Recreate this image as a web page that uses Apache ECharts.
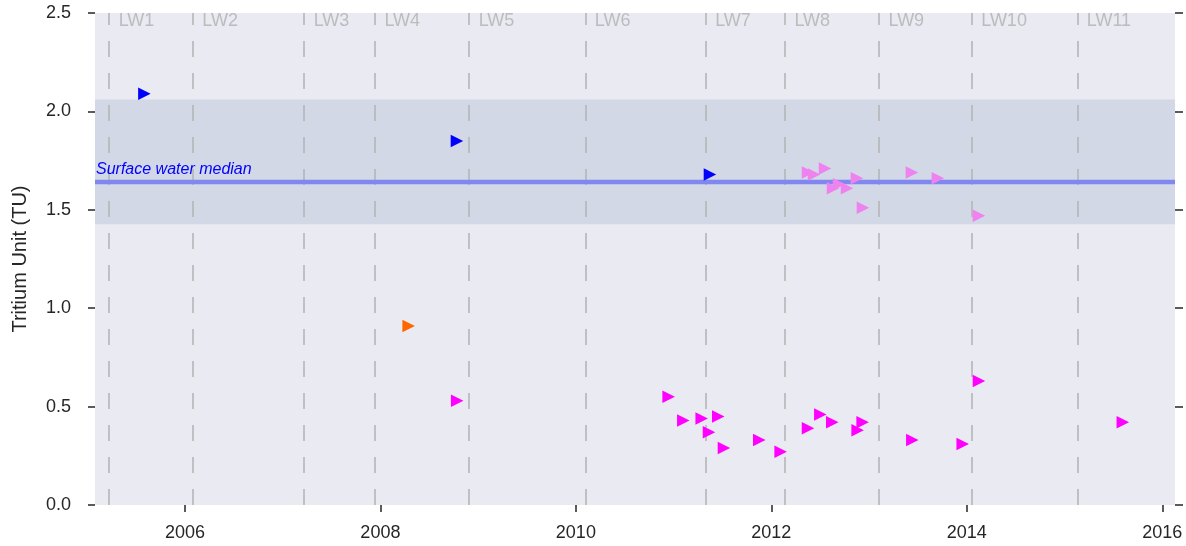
<!DOCTYPE html>
<html>
<head>
<meta charset="utf-8">
<script src="https://cdn.jsdelivr.net/npm/echarts@6/dist/echarts.min.js"></script>
<style>
  html, body { margin: 0; padding: 0; background: #fff; }
  #chart { width: 1186px; height: 546px; }
</style>
</head>
<body>
<div id="chart"></div>
<script>
// decimal year, tritium value (TU)
const bluePoints = [[2005.585, 2.09], [2008.783, 1.85], [2011.372, 1.68]];
const orangePoints = [[2008.289, 0.91]];
const magentaPoints = [
    [2008.786, 0.53], [2010.949, 0.55], [2011.099, 0.43], [2011.287, 0.44],
    [2011.362, 0.37], [2011.457, 0.45], [2011.515, 0.29], [2011.876, 0.33],
    [2012.095, 0.27], [2012.375, 0.39], [2012.501, 0.46], [2012.623, 0.42],
    [2012.883, 0.38], [2012.934, 0.42], [2013.442, 0.33], [2013.958, 0.31],
    [2014.124, 0.63], [2015.596, 0.42]
];
const violetPoints = [
    [2012.375, 1.69], [2012.437, 1.68], [2012.549, 1.71], [2012.631, 1.61],
    [2012.692, 1.63], [2012.774, 1.61], [2012.876, 1.66], [2012.937, 1.51],
    [2013.438, 1.69], [2013.704, 1.66], [2014.124, 1.47]
];

// longwall panel start dates
const lwNames = ["LW1", "LW2", "LW3", "LW4", "LW5", "LW6", "LW7", "LW8", "LW9", "LW10", "LW11"];
const lwStarts = [2005.225, 2006.08, 2007.22, 2007.944, 2008.908, 2010.096, 2011.328, 2012.139, 2013.101, 2014.05, 2015.13];

// surface water reference
const surfaceMedian = 1.639;
const surfaceRange = [1.427, 2.06];

const xTicks = [2006, 2008, 2010, 2012, 2014, 2016];

const chart = echarts.init(document.getElementById('chart'));

const FONT = 'Liberation Sans, Arial, sans-serif';

function pointSeries(name, data, color) {
    return {
        name: name,
        type: 'scatter',
        data: data,
        symbol: 'triangle',
        symbolRotate: -90,
        symbolSize: 12.5,
        itemStyle: { color: color, opacity: 1 },
        z: 5,
        silent: true
    };
}

const option = {
    animation: false,
    textStyle: { fontFamily: FONT },
    grid: {
        left: 95, right: 11, top: 13, bottom: 41,
        show: true,
        backgroundColor: '#EAEAF2',
        borderWidth: 0
    },
    xAxis: {
        type: 'value',
        min: 2005.08,
        max: 2016.13,
        axisLine: { show: false },
        splitLine: { show: false },
        axisTick: {
            show: true,
            customValues: xTicks,
            length: 7,
            lineStyle: { color: '#262626', width: 1.5 }
        },
        axisLabel: {
            customValues: xTicks,
            color: '#262626',
            fontSize: 18,
            margin: 19,
            formatter: v => String(v)
        }
    },
    yAxis: [
        {
            type: 'value',
            min: 0,
            max: 2.5,
            interval: 0.5,
            name: 'Tritium Unit (TU)',
            nameLocation: 'middle',
            nameGap: 65,
            nameTextStyle: { color: '#262626', fontSize: 20, fontFamily: FONT },
            axisLine: { show: false },
            splitLine: { show: false },
            axisTick: { show: true, length: 7, lineStyle: { color: '#262626', width: 1.5 } },
            axisLabel: {
                color: '#262626',
                fontSize: 18,
                margin: 24,
                formatter: v => v.toFixed(1)
            }
        },
        {
            type: 'value',
            min: 0,
            max: 2.5,
            interval: 0.5,
            position: 'right',
            axisLine: { show: false },
            splitLine: { show: false },
            axisTick: { show: true, length: 8, lineStyle: { color: '#262626', width: 1.5 } },
            axisLabel: { show: false }
        }
    ],
    series: [
        {
            // surface water band
            type: 'scatter',
            data: [],
            z: 1,
            silent: true,
            markArea: {
                silent: true,
                itemStyle: { color: '#D3D8E7' },
                data: [[{ yAxis: surfaceRange[0] }, { yAxis: surfaceRange[1] }]]
            }
        },
        {
            // longwall dashed lines
            type: 'scatter',
            data: [],
            z: 2,
            silent: true,
            markLine: {
                silent: true,
                symbol: ['none', 'none'],
                label: { show: false },
                lineStyle: { color: '#B3B3B3', width: 1.5, type: [16, 16] },
                data: lwStarts.map(x => [{ coord: [x, 0] }, { coord: [x, 2.5] }])
            }
        },
        {
            // longwall labels
            type: 'scatter',
            data: lwStarts.map((x, i) => [x, 2.5, lwNames[i]]),
            symbolSize: 1,
            itemStyle: { color: 'rgba(0,0,0,0)' },
            z: 3,
            silent: true,
            label: {
                show: true,
                position: [10, 0],
                color: '#B0B0B0',
                fontSize: 18,
                fontFamily: FONT,
                formatter: p => p.value[2]
            }
        },
        {
            // surface water median
            type: 'scatter',
            data: [],
            z: 3,
            silent: true,
            markLine: {
                silent: true,
                symbol: ['none', 'none'],
                lineStyle: { color: '#8088F0', width: 4.3, type: 'solid' },
                label: {
                    show: true,
                    position: 'insideStartTop',
                    distance: [1, 5],
                    formatter: 'Surface water median',
                    color: '#0000FF',
                    fontStyle: 'italic',
                    fontSize: 16,
                    fontFamily: FONT
                },
                data: [{ yAxis: surfaceMedian }]
            }
        },
        pointSeries('blue', bluePoints, '#0000FF'),
        pointSeries('orange', orangePoints, '#FF6600'),
        pointSeries('magenta', magentaPoints, '#FF00FF'),
        pointSeries('violet', violetPoints, '#EE82EE')
    ]
};

chart.setOption(option);
</script>
</body>
</html>
